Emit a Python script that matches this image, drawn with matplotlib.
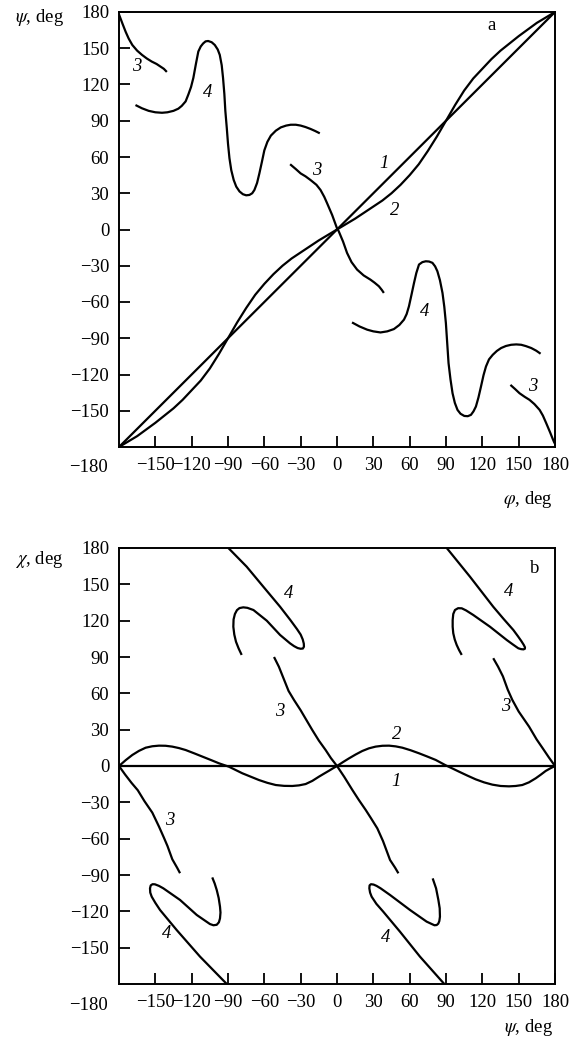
import matplotlib
matplotlib.use("Agg")
import matplotlib.pyplot as plt

plt.rcParams['font.family'] = ['Liberation Serif', 'DejaVu Serif']
plt.rcParams['mathtext.fontset'] = 'stix'

# ---------------- Panel a: psi vs phi ----------------
a1_phi = [-180, 180]
a1_psi = [-180, 180]

a2_phi = [-180, -172.5, -165, -157.5, -150, -142.5, -135, -127.5, -120, -112.5, -105,
          -97.5, -90, -82.5, -75, -67.5, -60, -52.5, -45, -37.5, -30, -22.5, -15, -7.5,
          0, 7.5, 15, 22.5, 30, 37.5, 45, 52.5, 60, 67.5, 75, 82.5, 90, 97.5, 105,
          112.5, 120, 127.5, 135, 142.5, 150, 157.5, 165, 172.5, 180]
a2_psi = [-180, -175.5, -171, -165.5, -160, -154, -148, -141, -133, -125, -115,
          -103, -90, -77, -65, -54, -45, -37, -30, -24, -19, -14, -9, -4.5,
          0, 4.5, 9, 14, 19, 24, 30, 37, 45, 54, 65, 77, 90, 103, 115,
          125, 133, 141, 148, 154, 160, 165.5, 171, 175.5, 180]

a3_left_phi = [-180, -177, -174.5, -172, -169, -165, -161, -157, -153, -149, -146, -143, -140.5]
a3_left_psi = [178, 170, 163.6, 158, 152.7, 148, 144.5, 141.5, 139, 137, 135, 133, 130.4]
a3_mid_phi = [-38.7, -34, -30, -26, -21.8, -17, -13.6, -10.5, -8.2, -4, 0, 1.4,
              5, 8.3, 12, 16.6, 22, 27.6, 31, 34.6, 37, 38.7]
a3_mid_psi = [54, 50, 46.4, 44, 40.9, 37, 32.7, 27, 21.8, 12, 1, -1.4,
              -10, -19.4, -27, -33.2, -38, -41.5, -44, -47, -50, -52.5]
a3_right_phi = [143.2, 147, 150.7, 155, 159, 163, 167.3, 170, 172.8, 176, 178, 179.7]
a3_right_psi = [-128.6, -132, -135.5, -138.5, -141, -144.5, -149.3, -154, -160.4, -168, -173, -177]

a4_left_phi = [-166.4, -161, -155.5, -150, -144.5, -140, -135, -131, -128.2, -125, -122.7,
               -120.5, -118.6, -116.5, -114.5, -112.5, -110.5, -108.5, -106.4, -103.5,
               -100.9, -98.5, -96.8, -95.2, -94.1, -93, -92.2, -91, -90, -88.8, -87.3,
               -85.3, -83.2, -80.5, -77.7, -75, -72.3, -70, -68.2, -66, -64.1, -62, -60,
               -57.5, -54.6, -50.5, -46.4, -42, -38.2, -34, -30, -26, -21.8, -18, -14.2]
a4_left_psi = [103, 100.3, 98.2, 97, 96.6, 97, 98.2, 100, 102.3, 106, 111.8,
               118, 125.5, 137, 147.3, 151.5, 154, 155.7, 156, 155, 152.7, 149, 144.5,
               136, 125.5, 112, 98.2, 84, 71, 59, 49.1, 41, 35.5, 31.5, 29.2, 28.3,
               28.6, 30, 32.7, 38.5, 46.4, 56, 65.5, 72.5, 77.7, 81.8, 84.5, 86, 86.7,
               86.7, 86, 84.8, 83.2, 81.5, 79.6]
a4_right_phi = [12.4, 18.5, 24.9, 30, 35.9, 41.5, 47, 51.5, 55.3, 57.5, 59.4, 61.5, 63.6,
                65.5, 67.7, 70.5, 73.3, 76, 78.8, 81, 82.9, 85, 87.1, 88.6, 89.9, 91,
                92.1, 93.7, 95.4, 97.3, 99.5, 102, 105.1, 108, 110.6, 112.7, 114.7, 116.8,
                118.9, 121, 123, 125.5, 128.6, 132, 135.5, 139.5, 143.8, 148, 152.1, 156,
                160.4, 164.5, 168.1]
a4_right_psi = [-76.9, -80.2, -82.9, -84.3, -85.2, -84.3, -82.4, -79, -74.6, -70, -63.6,
                -54, -44.2, -36, -29, -27, -26.3, -26.5, -27.6, -30.5, -34.6, -42, -52.5,
                -64, -77.4, -94, -110.6, -124, -135.5, -143.5, -149.3, -152.5, -154.3,
                -154.5, -153.4, -150.5, -146.5, -139, -129.9, -120.5, -113.4, -107.5,
                -103.7, -100.5, -98.1, -96.4, -95.4, -95.1, -95.4, -96.5, -98.1, -100.3,
                -102.8]

# ---------------- Panel b: chi vs psi ----------------
b1_psi = [-180, 180]
b1_chi = [0, 0]

b2_psi = [-180, -174.5, -169, -163.5, -158, -152.5, -147, -141.5, -136, -130.5, -125, -118,
          -111, -104, -97.4, -89.2, -83.7, -78.2, -71.3, -64.4, -57.5, -50.6, -43.7,
          -36.9, -31.4, -25.9, -20.4, -14.9, -10.7, -6.6, -3.3, 0, 4.9, 9.9, 15.4, 20.9,
          26.4, 31.9, 37.5, 43, 48.5, 54, 60.8, 67.7, 74.6, 81.5, 85.6, 89.7, 95.2,
          100.8, 107.6, 114.5, 121.4, 128.3, 135.1, 142, 147.5, 153, 158.5, 164, 168.2,
          172.3, 176.2, 180]
b2_chi = [0, 4.8, 9.1, 12.5, 15.1, 16.3, 16.8, 16.7, 16, 14.8, 13.2, 10.5,
          7.7, 4.9, 2.2, -0.6, -3.3, -6, -8.8, -11.6, -13.9, -15.7, -16.4,
          -16.5, -16, -14.9, -12.3, -8.8, -6.3, -3.9, -1.9, 0, 3.2, 6.3, 9.5, 12.4,
          14.6, 16, 16.7, 16.8, 16.2, 15.1, 13, 10.5, 7.8, 5, 2.8, 0.6, -2,
          -4.7, -7.9, -11, -13.5, -15.4, -16.5, -16.8, -16.5, -15.7, -13.5, -10.2, -7.2,
          -4.1, -1.9, 0]

b3_ll_psi = [-180, -175, -169.6, -164.5, -159, -152.5, -147, -143, -140, -136, -132, -129.6]
b3_ll_chi = [0, -7, -14, -20, -29, -38.5, -50, -59, -66, -77, -84, -88.5]
b3_mid_psi = [-52, -48, -44, -40, -35.5, -30, -25, -20.4, -15, -9.4, -5, 0,
              6, 12.7, 18, 23.7, 28, 33.3, 38, 43.8, 48, 50.7]
b3_mid_chi = [90, 82, 72, 62, 54.5, 46, 37.5, 29.7, 21, 13.2, 6.5, 0,
              -9, -19.8, -28, -36.3, -43, -51.5, -62, -77.6, -84, -88.6]
b3_ur_psi = [129, 133, 137, 141, 144.8, 150, 158.6, 164.8, 169.6, 175, 180]
b3_ur_chi = [89, 82, 74, 63, 54.5, 45, 32.5, 22, 15, 7, 0]

b4_ul_psi = [-89.7, -74.6, -60.8, -47, -38.5, -33, -30, -28.3, -27.4, -27.3, -28.2, -30,
             -32.5, -35.5, -38.8, -47, -58, -69, -74, -77.4, -80.5, -82.6, -84.3, -85.4,
             -85.6, -84.8, -83.4, -81.2, -78.7]
b4_ul_chi = [180, 164.6, 148, 131.5, 120.5, 113, 108.5, 104.5, 101, 98.5, 97, 96.8,
             97.4, 99, 101.3, 108.2, 120, 128.8, 130.6, 131, 130.4, 128.7, 125.5, 121,
             115, 108.5, 102.6, 97, 91.7]
b4_ur_psi = [90.6, 109.8, 129, 137.5, 145.6, 149.5, 152.3, 154.2, 155.2, 155.1, 154,
             152, 149.7, 145, 140.2, 126.3, 112.5, 106.5, 103, 100, 97.4, 96, 95.5,
             95.5, 96, 97.2, 98.8, 100.8, 103]
b4_ur_chi = [180, 156.3, 131.5, 121.5, 112.3, 107, 103, 100, 98, 96.8, 96.3,
             96.5, 97.2, 100.5, 104, 115, 124.7, 128.5, 130.2, 130.3, 128.8, 125.5,
             120.5, 115, 109.6, 104.5, 100, 95.7, 91.7]
b4_ll_psi = [-103, -101, -99.3, -97.7, -96.6, -96.2, -96.6, -97.5, -99.3, -102, -104.9,
             -110, -115.8, -129.6, -143.4, -147, -150.3, -152.3, -153.8, -154.4, -154.2,
             -153, -150, -146.1, -132.4, -113.1, -91]
b4_ll_chi = [-92, -97, -102.4, -109, -116.2, -121, -125.8, -129, -131.1, -131.5, -130.5,
             -127, -123, -110.6, -101, -99, -97.7, -97.6, -98.6, -101, -104.5,
             -107.9, -113, -118.9, -135.4, -157.4, -180]
b4_lr_psi = [79, 81.8, 83.7, 84.8, 85, 84.5, 83.6, 82.3, 80.5, 78.5, 74, 60.3, 43.8, 36,
             32.7, 30.2, 28, 26.9, 26.7, 27.3, 28.6, 32.5, 38.2, 52, 68.5, 88.6]
b4_lr_chi = [-92.8, -101, -110.6, -117.5, -124.4, -128, -130.2, -131.3, -131.5, -130.6,
             -128.5, -118.9, -106.5, -101, -99, -97.9, -97.6, -98.6, -101, -104.5,
             -107.9, -113.8, -120.3, -136.8, -157.4, -180]

ticks = [-150, -120, -90, -60, -30, 0, 30, 60, 90, 120, 150, 180]
tick_labels = ['\u2212150', '\u2212120', '\u221290', '\u221260', '\u221230', '0',
               '30', '60', '90', '120', '150', '180']

W, H = 578, 1038
fig = plt.figure(figsize=(W / 100, H / 100), dpi=100)

ax_a = fig.add_axes([119 / W, 1 - 447 / H, 436 / W, 435 / H])
ax_b = fig.add_axes([119 / W, 1 - 984 / H, 436 / W, 436 / H])

LW = 1.6
FS = 13.5
kw = dict(color='black', lw=LW, solid_capstyle='butt', solid_joinstyle='round')

ax_a.plot(a1_phi, a1_psi, **kw)
ax_a.plot(a2_phi, a2_psi, **kw)
ax_a.plot(a3_left_phi, a3_left_psi, **kw)
ax_a.plot(a3_mid_phi, a3_mid_psi, **kw)
ax_a.plot(a3_right_phi, a3_right_psi, **kw)
ax_a.plot(a4_left_phi, a4_left_psi, **kw)
ax_a.plot(a4_right_phi, a4_right_psi, **kw)

ax_b.plot(b1_psi, b1_chi, **kw)
ax_b.plot(b2_psi, b2_chi, **kw)
ax_b.plot(b3_ll_psi, b3_ll_chi, **kw)
ax_b.plot(b3_mid_psi, b3_mid_chi, **kw)
ax_b.plot(b3_ur_psi, b3_ur_chi, **kw)
ax_b.plot(b4_ul_psi, b4_ul_chi, **kw)
ax_b.plot(b4_ur_psi, b4_ur_chi, **kw)
ax_b.plot(b4_ll_psi, b4_ll_chi, **kw)
ax_b.plot(b4_lr_psi, b4_lr_chi, **kw)

for ax in (ax_a, ax_b):
    ax.set_xlim(-180, 180)
    ax.set_ylim(-180, 180)
    ax.set_xticks(ticks)
    ax.set_xticklabels(tick_labels)
    ax.set_yticks(ticks)
    ax.set_yticklabels(tick_labels)
    ax.tick_params(direction='in', length=8, width=1.3, labelsize=FS,
                   top=False, right=False)
    ax.tick_params(axis='x', pad=7)
    ax.tick_params(axis='y', pad=7)
    for s in ax.spines.values():
        s.set_linewidth(1.4)

# curve labels (panel a)
lab_kw = dict(fontsize=FS, style='italic', ha='center', va='center')
ax_a.text(-165, 135, '3', **lab_kw)
ax_a.text(-107, 113, '4', **lab_kw)
ax_a.text(-17, 49, '3', **lab_kw)
ax_a.text(39, 55, '1', **lab_kw)
ax_a.text(48, 16, '2', **lab_kw)
ax_a.text(72.5, -68, '4', **lab_kw)
ax_a.text(161.5, -130, '3', **lab_kw)
ax_a.text(128, 169, 'a', fontsize=FS, ha='center', va='center')

# curve labels (panel b)
ax_b.text(-40, 142.5, '4', **lab_kw)
ax_b.text(-47, 45, '3', **lab_kw)
ax_b.text(141.5, 144, '4', **lab_kw)
ax_b.text(139, 49, '3', **lab_kw)
ax_b.text(49, 25.6, '2', **lab_kw)
ax_b.text(48.5, -13, '1', **lab_kw)
ax_b.text(-138, -44.6, '3', **lab_kw)
ax_b.text(-140.5, -138, '4', **lab_kw)
ax_b.text(40.5, -142, '4', **lab_kw)
ax_b.text(163, 163, 'b', fontsize=FS, ha='center', va='center')

# corner -180 labels
fig.text(88 / W, 1 - 467 / H, '\u2212180', fontsize=FS, ha='center', va='center')
fig.text(88 / W, 1 - 1005 / H, '\u2212180', fontsize=FS, ha='center', va='center')

# axis labels
fig.text(64 / W, 1 - 18 / H, r'$\psi$, deg', fontsize=FS, ha='right', va='center')
fig.text(64 / W, 1 - 559 / H, r'$\chi$, deg', fontsize=FS, ha='right', va='center')
fig.text(553 / W, 1 - 500 / H, r'$\varphi$, deg', fontsize=FS, ha='right', va='center')
fig.text(553 / W, 1 - 1027 / H, r'$\psi$, deg', fontsize=FS, ha='right', va='center')

fig.savefig('out.png', dpi=100, facecolor='white')
